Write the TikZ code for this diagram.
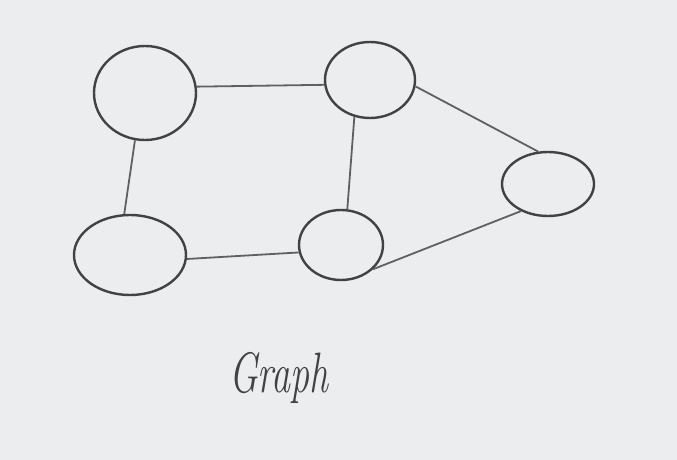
\documentclass[tikz,border=0pt]{standalone}
\usepackage{tikz}
\usetikzlibrary{shapes.geometric}

\definecolor{paper}{HTML}{ECEDEF}
\definecolor{pen}{HTML}{424242}
\definecolor{pencil}{HTML}{606060}

\begin{document}
\begin{tikzpicture}[x=1pt, y=-1pt, auto]

    \tikzstyle{vertex}=[draw=pen, line width=2.4pt, shape=ellipse, inner sep=0pt];
    \tikzstyle{edge}=[draw=pencil, line width=1.8pt];

    \fill [paper] (0,0) rectangle (677,460);
    \useasboundingbox (0,0) rectangle (677,460);

    \node [vertex, minimum width=102pt, minimum height=94pt](a) at (145, 93){};
    \node [vertex, minimum width=90pt, minimum height=76pt](b) at (370, 80){};
    \node [vertex, minimum width=92pt, minimum height=64pt](c) at (548, 184){};
    \node [vertex, minimum width=112pt, minimum height=80pt](d) at (130, 255){};
    \node [vertex, minimum width=84pt, minimum height=70pt](e) at (341, 245){};

    \draw [edge] (a.7) to (b.186);
    \draw [edge] (a.258) to (d.98);
    \draw [edge] (b.247) to (e.80);
    \draw [edge] (b.352) to (c.107);
    \draw [edge] (d.356) to (e.190);
    \draw [edge] (e.323) to (c.225);

    \node [text=pen, font=\fontsize{38}{40}\selectfont\itshape](title) at (279, 378){\scalebox{1}[1.5]{Graph}};

\end{tikzpicture}
\end{document}
